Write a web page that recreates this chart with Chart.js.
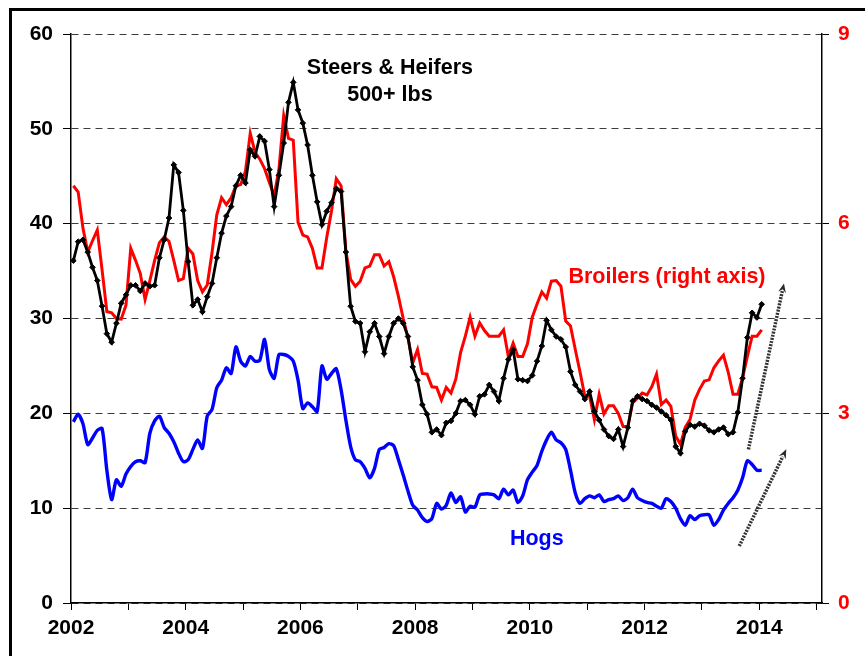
<!DOCTYPE html>
<html>
<head>
<meta charset="utf-8">
<script src="https://cdn.jsdelivr.net/npm/chart.js@4.4.1/dist/chart.umd.min.js"></script>
<style>
  html, body { margin: 0; padding: 0; background: #fff; }
  #wrap { width: 865px; height: 656px; }
</style>
</head>
<body>
<div id="wrap"><canvas id="myChart" width="865" height="656"></canvas></div>
<script>
// monthly, Jan 2002 .. Jan 2014
const startYear = 2002;

// Steers & Heifers 500+ lbs (left axis)
const steers = [
  36.1, 38.1, 38.3, 37.0, 35.4, 34.0, 31.3, 28.4, 27.5, 29.5, 31.6, 32.5,
  33.5, 33.5, 32.9, 33.7, 33.4, 33.5, 36.4, 38.3, 40.6, 46.2, 45.4, 41.4,
  36.0, 31.4, 32.0, 30.7, 32.3, 33.7, 36.4, 39.0, 40.8, 41.8, 44.0, 45.1,
  44.3, 47.8, 47.1, 49.2, 48.7, 45.7, 41.8, 45.1, 48.5, 52.8, 54.9, 52.0,
  50.6, 48.3, 45.1, 42.3, 39.9, 41.3, 42.2, 43.7, 43.4, 37.0, 31.3, 29.7,
  29.5, 26.5, 28.6, 29.5, 28.1, 26.3, 28.1, 29.5, 30.0, 29.5, 28.1, 24.9,
  23.5, 20.9, 19.9, 18.0, 18.3, 17.7, 19.0, 19.2, 20.0, 21.3, 21.4, 20.9,
  19.9, 21.8, 22.0, 23.0, 22.3, 21.3, 23.7, 25.7, 26.7, 23.6, 23.5, 23.4,
  24.0, 25.5, 27.1, 29.8, 28.8, 28.1, 27.8, 27.0, 24.4, 23.0, 22.3, 21.5,
  22.3, 20.2, 19.3, 18.3, 17.6, 17.3, 18.3, 16.5, 18.5, 21.3, 21.8, 21.5,
  21.3, 20.9, 20.6, 20.2, 19.8, 19.3, 16.5, 15.8, 18.1, 18.8, 18.6, 18.9,
  18.7, 18.2, 18.0, 18.3, 18.5, 17.8, 18.0, 20.1, 23.7, 28.0, 30.6, 30.1,
  31.5
];

// Broilers (right axis)
const broilers = [
  6.60, 6.50, 5.93, 5.55, 5.73, 5.90, 5.27, 4.61, 4.59, 4.50, 4.49, 4.71,
  5.61, 5.42, 5.21, 4.80, 5.10, 5.42, 5.70, 5.79, 5.72, 5.42, 5.10, 5.13,
  5.61, 5.52, 5.10, 4.92, 5.03, 5.54, 6.14, 6.41, 6.30, 6.41, 6.60, 6.62,
  6.83, 7.43, 7.13, 7.02, 6.87, 6.65, 6.44, 6.86, 7.71, 7.35, 7.32, 6.02,
  5.82, 5.79, 5.61, 5.30, 5.30, 5.78, 6.20, 6.71, 6.60, 5.57, 5.12, 5.01,
  5.09, 5.30, 5.33, 5.51, 5.51, 5.33, 5.40, 5.16, 4.85, 4.50, 4.19, 3.80,
  4.01, 3.63, 3.62, 3.42, 3.41, 3.21, 3.41, 3.32, 3.54, 3.96, 4.22, 4.52,
  4.22, 4.43, 4.31, 4.22, 4.22, 4.22, 4.32, 3.90, 4.11, 3.90, 3.90, 4.10,
  4.52, 4.73, 4.92, 4.82, 5.09, 5.10, 5.01, 4.46, 4.38, 4.01, 3.65, 3.27,
  3.27, 2.90, 3.30, 2.99, 3.12, 3.12, 3.00, 2.79, 2.79, 3.17, 3.24, 3.32,
  3.29, 3.42, 3.62, 3.14, 3.21, 3.11, 2.64, 2.51, 2.78, 2.90, 3.21, 3.38,
  3.51, 3.53, 3.72, 3.83, 3.92, 3.65, 3.30, 3.30, 3.56, 3.90, 4.22, 4.22,
  4.32
];

// Hogs (left axis)
const hogs = [
  19.1, 19.9, 18.9, 16.7, 17.4, 18.2, 18.4, 14.0, 10.9, 13.0, 12.3, 13.6,
  14.4, 14.9, 15.0, 14.8, 17.9, 19.2, 19.7, 18.5, 17.9, 17.0, 15.8, 14.9,
  15.1, 16.2, 17.2, 16.3, 19.7, 20.4, 22.7, 23.5, 24.8, 24.2, 27.0, 25.5,
  25.0, 26.0, 25.5, 25.6, 27.8, 24.6, 23.7, 26.2, 26.2, 26.0, 25.5, 23.5,
  20.5, 21.1, 20.7, 20.2, 25.0, 23.6, 24.2, 24.7, 22.5, 19.3, 16.5, 15.1,
  14.9, 14.2, 13.2, 14.2, 16.2, 16.4, 16.8, 16.6, 15.1, 13.5, 11.8, 10.3,
  9.8, 9.0, 8.6, 8.9, 10.5, 9.9, 10.3, 11.6, 10.6, 11.2, 9.6, 10.2,
  10.1, 11.4, 11.5, 11.5, 11.4, 11.0, 12.0, 11.4, 11.9, 10.6, 11.3, 13.0,
  13.8, 14.5, 16.0, 17.2, 18.0, 17.2, 16.9, 16.2, 14.0, 11.6, 10.5, 11.0,
  11.3, 11.1, 11.4, 10.7, 10.9, 11.0, 11.3, 10.8, 11.1, 12.0, 11.1, 10.8,
  10.6, 10.5, 10.2, 10.0, 11.0, 10.7, 10.0, 8.9, 8.2, 9.2, 8.8, 9.2,
  9.3, 9.3, 8.2, 8.8, 9.8, 10.5, 11.1, 11.9, 13.2, 15.0, 14.6, 14.0,
  14.0
];

const yearLabels = ['2002', '2004', '2006', '2008', '2010', '2012', '2014'];
const leftTicks = [0, 10, 20, 30, 40, 50, 60];
const rightTicks = [0, 3, 6, 9];

// text labels and arrows, in data units (year, left-axis value)
const notes = [
  { text: 'Steers & Heifers', x: 2007.56, y: 56.4, color: '#000000' },
  { text: '500+ lbs', x: 2007.56, y: 53.6, color: '#000000' },
  { text: 'Broilers (right axis)', x: 2012.39, y: 34.4, color: '#ff0000' },
  { text: 'Hogs', x: 2010.12, y: 6.75, color: '#0000ff' }
];
const arrows = [
  { x1: 2013.81, y1: 16.2, x2: 2014.43, y2: 33.7 },
  { x1: 2013.65, y1: 6.0, x2: 2014.47, y2: 16.2 }
];

const FONT = '"Liberation Sans", Arial, sans-serif';

function toPoints(values) {
    // mid-month position for each monthly value
    return values.map(function(v, i) {
        return { x: startYear + (i + 0.5) / 12, y: v };
    });
}

var framePlugin = {
    id: 'frame',
    beforeDraw: function(chart) {
        var ctx = chart.ctx;
        ctx.save();
        ctx.fillStyle = '#ffffff';
        ctx.fillRect(0, 0, chart.width, chart.height);
        ctx.restore();
    },
    afterDraw: function(chart) {
        var ctx = chart.ctx;
        var xs = chart.scales.x, ys = chart.scales.y;

        // outer border (cut off at right and bottom)
        ctx.save();
        ctx.strokeStyle = '#000';
        ctx.lineWidth = 3;
        ctx.beginPath();
        ctx.moveTo(10.5, chart.height + 2);
        ctx.lineTo(10.5, 9.5);
        ctx.lineTo(chart.width + 2, 9.5);
        ctx.stroke();

        // dotted arrows
        arrows.forEach(function(a) {
            var px1 = xs.getPixelForValue(a.x1), py1 = ys.getPixelForValue(a.y1);
            var px2 = xs.getPixelForValue(a.x2), py2 = ys.getPixelForValue(a.y2);
            var ang = Math.atan2(py2 - py1, px2 - px1);
            var headLen = 10;
            ctx.strokeStyle = '#333333';
            ctx.lineWidth = 3.5;
            ctx.setLineDash([2, 1.2]);
            ctx.beginPath();
            ctx.moveTo(px1, py1);
            ctx.lineTo(px2 - Math.cos(ang) * headLen * 0.8, py2 - Math.sin(ang) * headLen * 0.8);
            ctx.stroke();
            ctx.setLineDash([]);
            ctx.fillStyle = '#2a2a2a';
            ctx.beginPath();
            ctx.moveTo(px2, py2);
            ctx.lineTo(px2 - headLen * Math.cos(ang - 0.4), py2 - headLen * Math.sin(ang - 0.4));
            ctx.lineTo(px2 - headLen * 0.6 * Math.cos(ang), py2 - headLen * 0.6 * Math.sin(ang));
            ctx.lineTo(px2 - headLen * Math.cos(ang + 0.4), py2 - headLen * Math.sin(ang + 0.4));
            ctx.closePath();
            ctx.fill();
        });

        // series labels
        ctx.font = 'bold 21.5px ' + FONT;
        ctx.textAlign = 'center';
        ctx.textBaseline = 'middle';
        notes.forEach(function(n) {
            ctx.fillStyle = n.color;
            ctx.fillText(n.text, xs.getPixelForValue(n.x), ys.getPixelForValue(n.y));
        });
        ctx.restore();
    }
};

var tickFont = { family: FONT, size: 21, weight: 'bold' };

var ctx = document.getElementById('myChart').getContext('2d');
var myChart = new Chart(ctx, {
    type: 'line',
    data: {
        datasets: [
            {
                label: 'Steers & Heifers 500+ lbs',
                data: toPoints(steers),
                yAxisID: 'y',
                borderColor: '#000000',
                backgroundColor: '#000000',
                borderWidth: 2.8,
                pointStyle: 'rectRot',
                pointRadius: 2.8,
                pointBorderWidth: 1,
                tension: 0,
                order: 0
            },
            {
                label: 'Broilers',
                data: toPoints(broilers),
                yAxisID: 'y2',
                borderColor: '#ff0000',
                borderWidth: 3,
                pointRadius: 0,
                tension: 0,
                order: 1
            },
            {
                label: 'Hogs',
                data: toPoints(hogs),
                yAxisID: 'y',
                borderColor: '#0000ff',
                borderWidth: 3.4,
                pointRadius: 0,
                tension: 0.25,
                order: 2
            }
        ]
    },
    options: {
        responsive: false,
        animation: false,
        events: [],
        layout: { padding: { top: 34, left: 0, right: 0, bottom: 0 } },
        plugins: {
            legend: { display: false },
            tooltip: { enabled: false }
        },
        scales: {
            x: {
                type: 'linear',
                min: 2002,
                max: 2015.093,
                afterFit: function(scale) { scale.height = 53; },
                afterBuildTicks: function(scale) {
                    var t = [];
                    for (var yr = 2002; yr <= 2015; yr++) t.push({ value: yr });
                    scale.ticks = t;
                },
                ticks: {
                    autoSkip: false,
                    maxRotation: 0,
                    padding: 6,
                    color: '#000',
                    font: tickFont,
                    callback: function(v) {
                        var s = String(v);
                        return yearLabels.indexOf(s) >= 0 ? s : '';
                    }
                },
                grid: {
                    drawOnChartArea: false,
                    tickLength: 7,
                    color: '#000',
                    lineWidth: 1
                },
                border: { color: '#000', width: 1.5 }
            },
            y: {
                position: 'left',
                min: 0,
                max: 60,
                afterFit: function(scale) { scale.width = 71; },
                afterBuildTicks: function(scale) {
                    scale.ticks = leftTicks.map(function(v) { return { value: v }; });
                },
                ticks: { color: '#000', font: tickFont, padding: 10 },
                grid: {
                    color: '#3c3c3c',
                    tickColor: '#000',
                    tickLength: 8,
                    lineWidth: 1
                },
                border: { color: '#000', width: 1.5, dash: [7, 5] }
            },
            y2: {
                position: 'right',
                min: 0,
                max: 9,
                afterFit: function(scale) { scale.width = 43; },
                afterBuildTicks: function(scale) {
                    scale.ticks = rightTicks.map(function(v) { return { value: v }; });
                },
                ticks: { color: '#ff0000', font: tickFont, padding: 9 },
                grid: {
                    drawOnChartArea: false,
                    color: '#000',
                    tickLength: 7,
                    lineWidth: 1
                },
                border: { color: '#000', width: 1.5 }
            }
        }
    },
    plugins: [framePlugin]
});
</script>
</body>
</html>
